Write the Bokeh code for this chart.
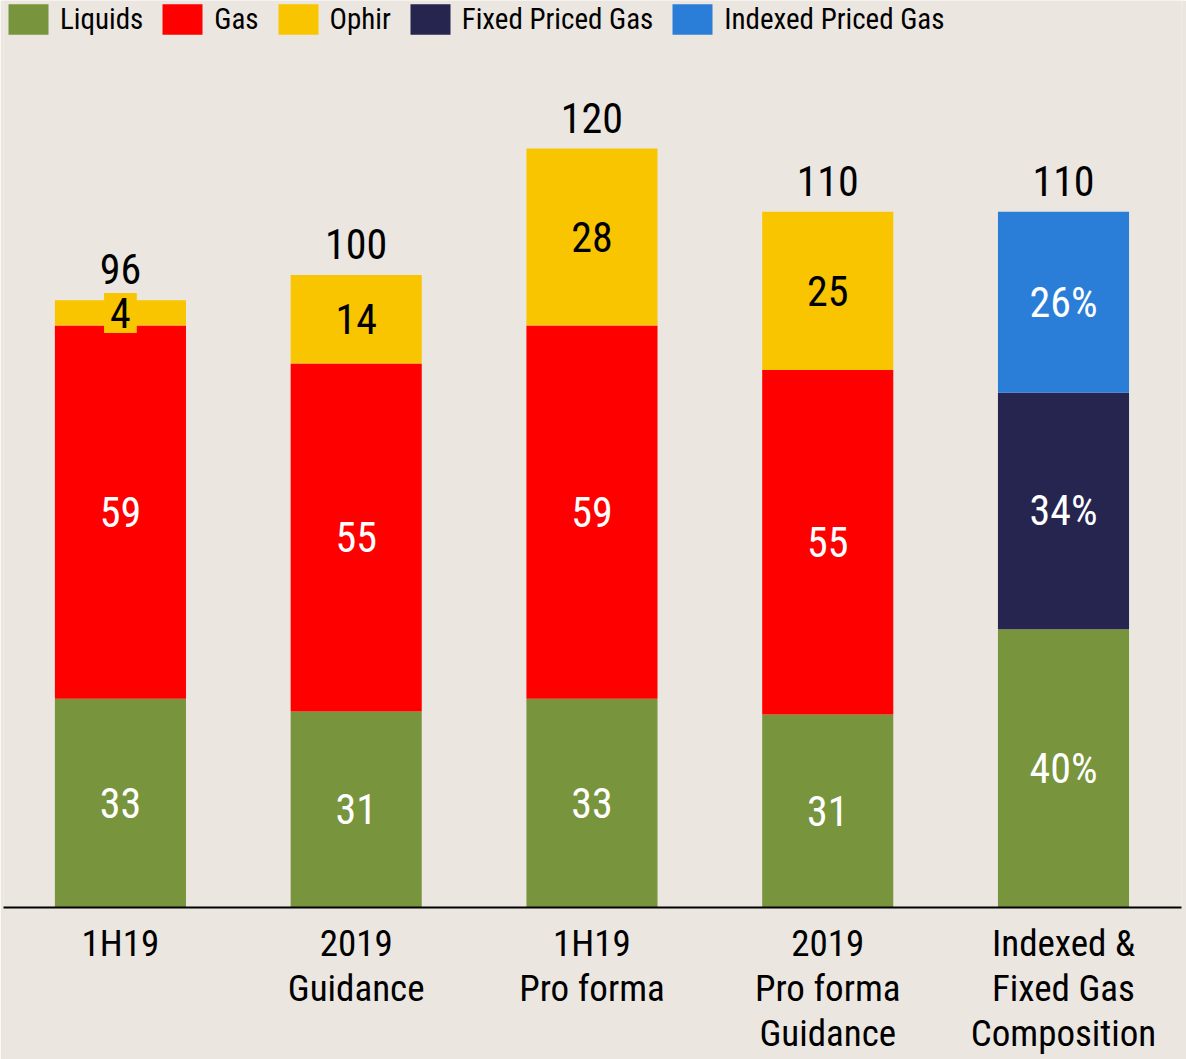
from bokeh.plotting import figure
from bokeh.models import Range1d, FixedTicker, Legend, LegendItem, ColumnDataSource
from bokeh.core.properties import value
from bokeh.embed import file_html
from bokeh.resources import INLINE

# ---------------- data ----------------
categories = ["1H19", "2019\nGuidance", "1H19\nPro forma", "2019\nPro forma\nGuidance",
              "Indexed &\nFixed Gas\nComposition"]
liquids = [33, 31, 33, 30.5]
gas = [59, 55, 59, 54.5]
ophir = [4, 14, 28, 25]
liquids_labels = ["33", "31", "33", "31"]
gas_labels = ["59", "55", "59", "55"]
ophir_labels = ["4", "14", "28", "25"]
totals = [96, 100, 120, 110]

comp_total = 110
comp_share = [40, 34, 26]          # Liquids, Fixed Priced Gas, Indexed Priced Gas (%)

series_names = ["Liquids", "Gas", "Ophir", "Fixed Priced Gas", "Indexed Priced Gas"]

# ---------------- style ----------------
BG = "#EBE6E0"
GREEN = "#78943C"
RED = "#FF0000"
YELLOW = "#F9C500"
NAVY = "#252550"
BLUE = "#2B7ED8"
FONT = "Roboto Condensed"
BAR_W = 0.556
LBL = "42px"

p = figure(width=1186, height=1059, output_backend="svg", toolbar_location=None,
           x_range=Range1d(-0.496, 4.5005), y_range=Range1d(0, 143.4),
           min_border_left=3, min_border_right=5, min_border_top=0, min_border_bottom=152)
p.background_fill_color = BG
p.border_fill_color = BG
p.outline_line_color = None
p.xgrid.visible = False
p.ygrid.visible = False
p.yaxis.visible = False

xs = list(range(len(liquids)))
src = ColumnDataSource(dict(x=xs, Liquids=liquids, Gas=gas, Ophir=ophir))
rs = p.vbar_stack(["Liquids", "Gas", "Ophir"], x="x", width=BAR_W, source=src,
                  color=[GREEN, RED, YELLOW], line_color=None)

cx = len(liquids)
comp_vals = [comp_total * s / 100 for s in comp_share]
csrc = ColumnDataSource(dict(x=[cx], a=[comp_vals[0]], b=[comp_vals[1]], c=[comp_vals[2]]))
crs = p.vbar_stack(["a", "b", "c"], x="x", width=BAR_W, source=csrc,
                   color=[GREEN, NAVY, BLUE], line_color=None)

# segment labels
l_mid = [v / 2 for v in liquids]
g_mid = [l + g / 2 for l, g in zip(liquids, gas)]
o_mid = [l + g + o / 2 for l, g, o in zip(liquids, gas, ophir)]
tops = [l + g + o for l, g, o in zip(liquids, gas, ophir)]

p.text(x=xs, y=l_mid, text=liquids_labels, text_color="white", text_font=value(FONT),
       text_font_size=LBL, text_align="center", text_baseline="middle")
p.text(x=xs, y=g_mid, text=gas_labels, text_color="white", text_font=value(FONT),
       text_font_size=LBL, text_align="center", text_baseline="middle")
p.text(x=xs, y=o_mid, text=ophir_labels, text_color="black", text_font=value(FONT),
       text_font_size=LBL, text_align="center", text_baseline="middle",
       background_fill_color=YELLOW, padding=(6, 5))

c_mid = []
acc = 0
for v in comp_vals:
    c_mid.append(acc + v / 2)
    acc += v
p.text(x=[cx] * 3, y=c_mid, text=[f"{s}%" for s in comp_share], text_color="white",
       text_font=value(FONT), text_font_size=LBL, text_align="center", text_baseline="middle")

# totals
p.text(x=xs + [cx], y=[t + 4.9 for t in tops] + [acc + 4.9],
       text=[str(t) for t in totals] + [str(comp_total)], text_color="black",
       text_font=value(FONT), text_font_size=LBL, text_align="center", text_baseline="middle")

# axis
ax = p.xaxis[0]
ax.ticker = FixedTicker(ticks=list(range(len(categories))))
ax.major_label_overrides = {i: c for i, c in enumerate(categories)}
ax.major_tick_line_color = None
ax.minor_tick_line_color = None
ax.axis_line_width = 2
ax.axis_line_color = "black"
ax.major_label_text_font = FONT
ax.major_label_text_font_size = "37px"
ax.major_label_text_color = "black"
ax.major_label_text_line_height = 1.05
ax.major_label_standoff = 8

legend = Legend(items=[
    LegendItem(label=series_names[0], renderers=[rs[0]]),
    LegendItem(label=series_names[1], renderers=[rs[1]]),
    LegendItem(label=series_names[2], renderers=[rs[2]]),
    LegendItem(label=series_names[3], renderers=[crs[1]]),
    LegendItem(label=series_names[4], renderers=[crs[2]]),
], orientation="horizontal", location="top_left", margin=0, padding=9, spacing=14,
   glyph_width=50, glyph_height=38, label_standoff=7,
   label_text_font=FONT, label_text_font_size="29px", label_text_color="black",
   background_fill_alpha=0, border_line_color=None)
p.add_layout(legend, "center")

open("out.html", "w").write(file_html(p, INLINE))
